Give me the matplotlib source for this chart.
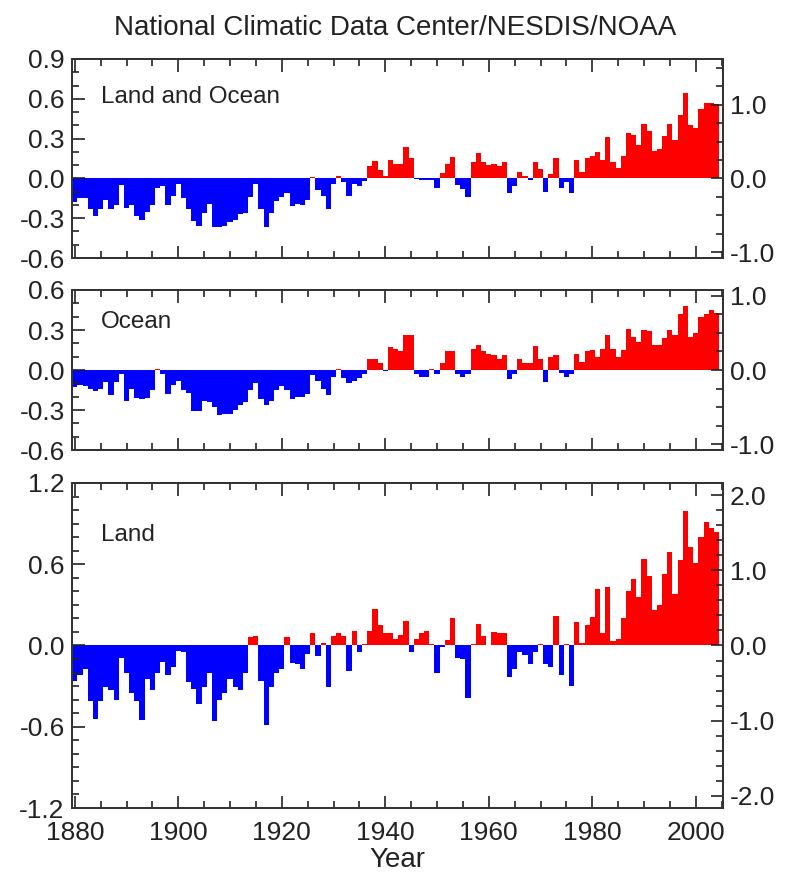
import matplotlib
matplotlib.use("Agg")
import matplotlib.pyplot as plt
from matplotlib.ticker import MultipleLocator, FormatStrFormatter

plt.rcParams['font.family'] = ['Liberation Sans', 'DejaVu Sans']
plt.rcParams['axes.unicode_minus'] = False

years = list(range(1880, 2005))

# annual anomalies, deg C
land_ocean = [
    -0.18, -0.145, -0.145, -0.23, -0.285, -0.23, -0.16, -0.23, -0.20, -0.05,
    -0.22, -0.20, -0.285, -0.315, -0.25, -0.20, -0.07, -0.055, -0.20, -0.13,
    -0.04, -0.145, -0.23, -0.32, -0.36, -0.26, -0.19, -0.37, -0.37, -0.36,
    -0.33, -0.31, -0.27, -0.26, -0.14, -0.04, -0.23, -0.37, -0.26, -0.17,
    -0.14, -0.11, -0.21, -0.19, -0.20, -0.16, 0.01, -0.09, -0.13, -0.23,
    -0.04, 0.02, -0.03, -0.13, -0.04, -0.06, -0.02, 0.09, 0.13, 0.06,
    0.02, 0.14, 0.11, 0.11, 0.24, 0.15, -0.005, -0.01, -0.01, -0.01,
    -0.07, 0.04, 0.11, 0.16, -0.05, -0.08, -0.14, 0.12, 0.19, 0.12,
    0.10, 0.11, 0.09, 0.12, -0.11, -0.06, 0.05, 0.02, -0.01, 0.12,
    0.07, -0.10, 0.03, 0.15, -0.07, -0.03, -0.11, 0.14, 0.05, 0.15,
    0.17, 0.20, 0.14, 0.31, 0.12, 0.08, 0.17, 0.34, 0.33, 0.25,
    0.41, 0.36, 0.21, 0.22, 0.32, 0.41, 0.29, 0.48, 0.64, 0.40,
    0.38, 0.52, 0.57, 0.57, 0.56,
]

ocean = [
    -0.13, -0.11, -0.12, -0.14, -0.16, -0.14, -0.09, -0.19, -0.09, -0.03,
    -0.23, -0.14, -0.21, -0.22, -0.21, -0.15, 0.01, -0.03, -0.18, -0.11,
    -0.08, -0.15, -0.17, -0.31, -0.31, -0.23, -0.24, -0.28, -0.34, -0.33,
    -0.33, -0.30, -0.26, -0.24, -0.15, -0.10, -0.22, -0.26, -0.23, -0.15,
    -0.12, -0.15, -0.22, -0.20, -0.20, -0.18, -0.04, -0.08, -0.14, -0.19,
    -0.05, 0.01, -0.06, -0.10, -0.08, -0.06, -0.03, 0.08, 0.08, 0.05,
    -0.01, 0.17, 0.16, 0.14, 0.26, 0.26, -0.03, -0.05, -0.05, 0.01,
    -0.03, 0.05, 0.14, 0.14, -0.03, -0.05, -0.03, 0.16, 0.19, 0.14,
    0.12, 0.11, 0.08, 0.11, -0.07, -0.03, 0.08, 0.05, 0.05, 0.18,
    0.08, -0.09, 0.10, 0.11, -0.02, -0.05, -0.03, 0.12, 0.06, 0.14,
    0.15, 0.10, 0.16, 0.26, 0.16, 0.10, 0.15, 0.31, 0.25, 0.21,
    0.30, 0.29, 0.19, 0.19, 0.24, 0.30, 0.26, 0.42, 0.48, 0.25,
    0.28, 0.40, 0.42, 0.45, 0.43,
]

land = [
    -0.26, -0.22, -0.17, -0.41, -0.54, -0.41, -0.31, -0.33, -0.40, -0.09,
    -0.20, -0.35, -0.41, -0.55, -0.25, -0.33, -0.20, -0.12, -0.22, -0.16,
    -0.04, -0.05, -0.27, -0.32, -0.43, -0.31, -0.20, -0.56, -0.40, -0.35,
    -0.25, -0.31, -0.33, -0.20, 0.06, 0.07, -0.26, -0.59, -0.31, -0.20,
    -0.17, 0.06, -0.13, -0.14, -0.17, -0.06, 0.09, -0.08, 0.02, -0.31,
    0.07, 0.09, 0.07, -0.19, 0.11, -0.05, 0.01, 0.11, 0.27, 0.15,
    0.09, 0.09, 0.05, 0.08, 0.18, -0.05, 0.05, 0.09, 0.11, 0.01,
    -0.20, -0.01, 0.04, 0.20, -0.09, -0.10, -0.39, 0.01, 0.16, 0.07,
    0.005, 0.10, 0.09, 0.09, -0.23, -0.17, -0.05, -0.07, -0.14, -0.05,
    0.01, -0.14, -0.16, 0.22, -0.22, 0.01, -0.30, 0.17, 0.02, 0.15,
    0.21, 0.42, 0.09, 0.43, 0.03, 0.05, 0.20, 0.40, 0.49, 0.36,
    0.64, 0.51, 0.26, 0.30, 0.53, 0.69, 0.38, 0.63, 0.99, 0.73,
    0.61, 0.80, 0.91, 0.87, 0.84,
]

panels = [
    ("Land and Ocean", land_ocean, (-0.6, 0.9), 0.3, 0.25, 0.81),
    ("Ocean", ocean, (-0.6, 0.6), 0.3, 0.25, 0.80),
    ("Land", land, (-1.2, 1.2), 0.6, 0.2, 0.84),
]
# axes boxes in figure fractions: left, bottom, width, height
boxes = [
    [0.0913, 0.7048, 0.8293, 0.2277],
    [0.0913, 0.4851, 0.8293, 0.1831],
    [0.0913, 0.0755, 0.8293, 0.3719],
]

fig = plt.figure(figsize=(7.85, 8.74), dpi=100)
fs = 19
ink = '#222222'

for (name, vals, ylim, major, fminor, ty), box in zip(panels, boxes):
    ax = fig.add_axes(box)
    colors = ['#ff0000' if v >= 0 else '#0000ff' for v in vals]
    ax.bar(years, vals, width=1.0, color=colors, linewidth=0)
    ax.set_xlim(1879.4, 2005.2)
    ax.set_ylim(*ylim)
    ax.xaxis.set_major_locator(MultipleLocator(20))
    ax.xaxis.set_minor_locator(MultipleLocator(5))
    ax.yaxis.set_major_locator(MultipleLocator(major))
    ax.yaxis.set_minor_locator(MultipleLocator(0.1))
    ax.yaxis.set_major_formatter(FormatStrFormatter('%.1f'))
    ax.tick_params(which='both', direction='in', top=True, right=False,
                   labelsize=fs, colors=ink, width=1.2)
    ax.tick_params(which='major', length=9, pad=5)
    ax.tick_params(which='minor', length=5)
    ax.tick_params(axis='x', pad=9)
    for sp in ax.spines.values():
        sp.set_linewidth(1.4)
        sp.set_color('#333333')
    ax.text(0.045, ty, name, transform=ax.transAxes,
            fontsize=17.5, color=ink, va='center', ha='left')
    if name == "Land":
        ax.set_xlabel("Year", fontsize=20, color=ink, labelpad=2)
    else:
        ax.tick_params(axis='x', labelbottom=False)

    # right axis in deg F
    ax2 = ax.twinx()
    ax2.set_ylim(ylim[0] * 1.8, ylim[1] * 1.8)
    ax2.yaxis.set_major_locator(MultipleLocator(1.0))
    ax2.yaxis.set_minor_locator(MultipleLocator(fminor))
    ax2.yaxis.set_major_formatter(FormatStrFormatter('%.1f'))
    ax2.tick_params(which='both', direction='in', labelsize=fs,
                    colors=ink, width=1.2)
    ax2.tick_params(which='major', length=9, pad=5)
    ax2.tick_params(which='minor', length=5)
    for sp in ax2.spines.values():
        sp.set_linewidth(1.4)
        sp.set_color('#333333')

fig.text(0.503, 0.968, "National Climatic Data Center/NESDIS/NOAA",
         ha='center', va='center', fontsize=20, color=ink)

fig.savefig("out.png", dpi=100)
